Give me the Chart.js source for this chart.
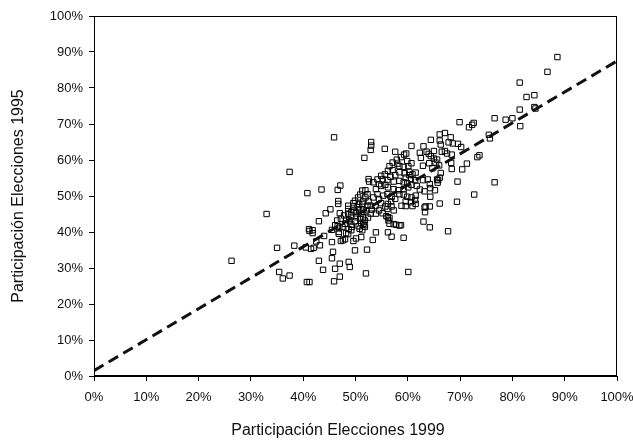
<!DOCTYPE html>
<html>
<head>
<meta charset="utf-8">
<script src="https://cdn.jsdelivr.net/npm/chart.js@4/dist/chart.umd.min.js"></script>
<style>
  html, body { margin: 0; padding: 0; background: #fff; }
  #wrap { width: 633px; height: 443px; position: relative; }
</style>
</head>
<body>
<div id="wrap"><canvas id="canvas"></canvas></div>
<script>
// participation per municipality (percent)
var part1999 = [
	26.3, 33.0, 37.4, 35.0, 38.3, 35.4, 36.1, 37.4, 40.7, 41.2, 40.8, 43.5, 45.9, 40.5, 41.1, 41.2, 41.8, 41.8, 41.5, 42.0,
	42.5, 43.0, 43.2, 43.0, 43.8, 44.0, 44.3, 45.2, 45.5, 45.5, 45.7, 45.5, 45.9, 46.1, 47.0, 47.0, 46.7, 46.7, 46.6, 47.1,
	46.1, 46.6, 46.9, 46.8, 46.8, 47.2, 47.6, 48.2, 48.6, 48.7, 49.2, 48.0, 48.7, 48.9, 49.6, 49.9, 50.1, 50.8, 51.1, 51.3,
	51.5, 51.7, 52.0, 52.2, 53.3, 53.9, 51.7, 52.9, 53.0, 53.0, 55.6, 56.2, 56.9, 59.2, 60.1, 56.2, 56.3, 56.5, 57.3, 57.8,
	58.4, 58.7, 63.0, 63.3, 63.2, 64.2, 64.2, 64.3, 66.1, 67.7, 69.4, 69.5, 72.7, 76.6, 70.4, 71.3, 73.3, 73.7, 69.9, 71.7,
	72.3, 72.6, 76.6, 78.7, 80.0, 75.5, 75.7, 81.4, 81.5, 81.4, 82.7, 84.2, 84.2, 84.4, 86.7, 88.6,
	66.1, 67.1, 68.2, 66.1, 66.3, 64.4, 63.0, 60.7, 67.8, 68.6, 69.6, 70.2, 66.5, 67.1, 67.5, 68.4, 65.0, 63.6, 62.3, 62.5,
	64.0, 64.4, 65.0, 65.6, 64.1, 64.7, 62.9, 65.3, 66.0, 68.3, 68.4, 66.3, 65.8, 65.7, 65.2, 64.3, 63.8, 62.9, 63.2, 62.3,
	59.7, 59.3, 57.6, 57.9, 58.7, 59.9, 60.7, 60.1, 59.2, 58.4, 57.1, 58.4, 59.4, 60.3, 60.9, 61.5, 60.3, 59.6, 60.6, 61.4,
	57.6, 56.7, 56.1, 57.3, 58.4, 59.2, 59.9, 60.7, 61.7, 60.1, 59.2, 58.2, 57.3, 56.2, 55.7, 54.9,
	58.4, 59.2, 59.9, 60.7, 61.5, 61.4, 60.6, 59.6, 58.8, 59.6, 60.9, 61.5, 57.6, 56.9, 56.8, 56.2, 56.9, 55.7, 54.9, 54.5,
	55.3, 56.1, 54.2, 53.4, 53.9, 54.5, 53.4, 52.6, 54.2, 55.2, 53.8, 52.9, 52.5, 51.9, 52.3, 51.3, 50.9, 51.9,
	49.9, 48.6, 48.6, 49.6, 50.4, 50.7, 49.8, 49.2, 50.1, 51.1, 51.5, 52.1, 51.5, 50.9, 50.1, 49.2, 48.6, 47.8, 47.2, 48.2,
	48.8, 49.9, 51.1, 51.8, 52.4, 52.9, 53.1, 52.3, 51.3, 50.7, 51.5, 50.5, 49.6, 47.0, 46.5, 47.5, 48.0, 49.3, 50.6, 51.8,
	49.2, 54.5, 55.2, 55.9, 56.5, 53.9, 56.1, 57.3, 55.6, 56.2, 54.9, 52.5, 56.5, 57.1, 58.0, 64.2, 65.6, 66.1, 63.4
];
var part1995 = [
	32.0, 45.0, 56.7, 35.6, 36.2, 28.9, 27.1, 27.9, 26.1, 26.1, 50.8, 51.8, 66.3, 35.7, 40.8, 40.3, 40.5, 39.7, 35.3, 35.6,
	37.4, 43.0, 36.3, 32.0, 29.5, 38.9, 45.2, 46.3, 40.6, 37.2, 34.5, 32.7, 26.3, 29.8, 31.2, 27.6, 48.6, 47.8, 51.7, 52.9,
	41.9, 41.6, 41.2, 39.5, 40.0, 37.5, 37.7, 39.7, 39.4, 40.8, 42.1, 38.0, 31.7, 30.3, 37.5, 34.9, 38.2, 40.9, 38.6, 40.5,
	42.3, 41.9, 28.5, 35.1, 37.8, 39.9, 60.6, 62.8, 64.0, 65.0, 63.1, 39.9, 38.7, 38.4, 28.9, 44.1, 43.2, 42.3, 42.2, 42.0,
	41.8, 41.9, 42.9, 45.5, 46.8, 47.1, 41.3, 49.8, 47.9, 40.2, 48.4, 54.0, 50.4, 53.8, 57.4, 59.0, 60.8, 61.3, 70.5, 69.1,
	69.8, 70.3, 71.6, 71.2, 71.6, 67.0, 66.0, 74.0, 69.4, 81.5, 77.5, 78.0, 74.7, 74.3, 84.5, 88.6,
	67.1, 67.5, 66.3, 65.4, 64.3, 65.6, 63.8, 63.9, 64.9, 64.6, 64.5, 63.6, 62.3, 62.5, 61.8, 61.5, 62.5, 62.3, 62.0, 60.6,
	61.7, 61.1, 60.4, 60.1, 59.1, 57.7, 58.4, 59.3, 58.5, 59.2, 57.5, 56.4, 54.4, 53.7, 51.6, 52.2, 54.6, 54.4, 51.3, 51.8,
	61.8, 61.5, 62.3, 60.1, 60.8, 59.7, 59.1, 58.3, 58.1, 58.3, 57.2, 56.6, 56.3, 56.7, 56.0, 56.5, 55.8, 55.1, 54.7, 54.4,
	55.8, 55.3, 54.4, 54.0, 54.2, 53.8, 53.5, 53.1, 52.8, 52.4, 51.9, 51.6, 51.9, 52.4, 53.1, 52.8,
	50.5, 50.4, 49.8, 49.6, 50.1, 48.9, 48.3, 48.5, 47.3, 47.2, 47.2, 47.8, 49.2, 49.8, 48.5, 47.8, 47.1, 47.1, 48.0, 49.2,
	50.1, 50.5, 50.5, 49.6, 51.9, 53.3, 53.8, 54.0, 54.6, 54.6, 47.2, 47.3, 48.5, 49.6, 50.5, 51.5, 50.4, 51.6,
	48.7, 47.3, 46.4, 47.1, 46.9, 46.0, 46.0, 45.5, 45.2, 45.1, 46.2, 46.0, 44.1, 43.7, 44.1, 44.6, 45.1, 44.6, 43.7, 43.4,
	43.2, 43.0, 42.5, 43.2, 44.0, 45.1, 46.2, 47.3, 47.8, 47.8, 48.5, 49.6, 48.0, 45.2, 43.2, 41.4, 42.3, 41.4, 41.6, 41.4,
	40.5, 46.0, 45.2, 44.4, 43.9, 45.1, 46.4, 46.0, 56.0, 57.0, 55.6, 54.7, 58.3, 59.3, 59.0, 53.3, 54.6, 55.1, 47.1
];
// fitted line, ends at 0% and 100%
var lineX = [0, 100];
var lineY = [1.5, 87.5];

var xTitle = "Participación Elecciones 1999";
var yTitle = "Participación Elecciones 1995";

var points = [];
for (var i = 0; i < part1999.length; i++) {
	points.push({ x: part1999[i], y: part1995[i] });
}
var fit = [];
for (var j = 0; j < lineX.length; j++) {
	fit.push({ x: lineX[j], y: lineY[j] });
}

var fontFam = '"Liberation Sans", Arial, Helvetica, sans-serif';

// box round the plot + the bottom title (sits left of plot centre in the original)
var frameAndTitle = {
	id: 'frameAndTitle',
	afterDraw: function(chart) {
		var ctx = chart.ctx, a = chart.chartArea;
		ctx.save();
		ctx.strokeStyle = '#000';
		ctx.lineWidth = 1;
		ctx.strokeRect(a.left + 0.5, a.top + 0.5, a.right - a.left - 1, a.bottom - a.top - 1);
		ctx.fillStyle = '#111';
		ctx.font = '16px ' + fontFam;
		ctx.textAlign = 'center';
		ctx.textBaseline = 'middle';
		ctx.fillText(xTitle, 338, 431);
		ctx.restore();
	}
};

var ctx = document.getElementById("canvas").getContext("2d");
var chart = new Chart(ctx, {
	type: 'scatter',
	data: {
		datasets: [
			{
				label: 'fit',
				type: 'line',
				data: fit,
				borderColor: '#111',
				borderWidth: 3,
				borderDash: [11, 6],
				pointRadius: 0,
				fill: false
			},
			{
				label: 'municipios',
				data: points,
				pointStyle: 'rect',
				pointRadius: 3.8,
				borderWidth: 1,
				borderColor: '#000',
				backgroundColor: 'rgba(0,0,0,0)'
			}
		]
	},
	options: {
		responsive: true,
		maintainAspectRatio: false,
		animation: false,
		layout: { padding: { top: 16, right: 16, left: 0, bottom: 0 } },
		plugins: {
			legend: { display: false },
			tooltip: { enabled: false }
		},
		scales: {
			x: {
				type: 'linear',
				min: 0,
				max: 100,
				afterFit: function(s) {
					s.height = 67;
					s.paddingLeft = 0;
					s.paddingRight = 0;
				},
				ticks: {
					stepSize: 10,
					color: '#111',
					padding: 9,
					maxRotation: 0,
					font: { size: 13, family: fontFam },
					callback: function(v) { return v + '%'; }
				},
				grid: { drawOnChartArea: false, drawTicks: true, tickLength: 5, color: '#000' },
				border: { display: true, color: '#000', width: 1 }
			},
			y: {
				type: 'linear',
				min: 0,
				max: 100,
				afterFit: function(s) {
					s.width = 94;
					s.paddingTop = 0;
					s.paddingBottom = 0;
				},
				ticks: {
					stepSize: 10,
					color: '#111',
					padding: 6,
					font: { size: 13, family: fontFam },
					callback: function(v) { return v + '%'; }
				},
				title: {
					display: true,
					text: yTitle,
					color: '#111',
					padding: { top: 9, bottom: 0 },
					font: { size: 16, family: fontFam }
				},
				grid: { drawOnChartArea: false, drawTicks: true, tickLength: 5, color: '#000' },
				border: { display: true, color: '#000', width: 1 }
			}
		}
	},
	plugins: [frameAndTitle]
});
</script>
</body>
</html>
